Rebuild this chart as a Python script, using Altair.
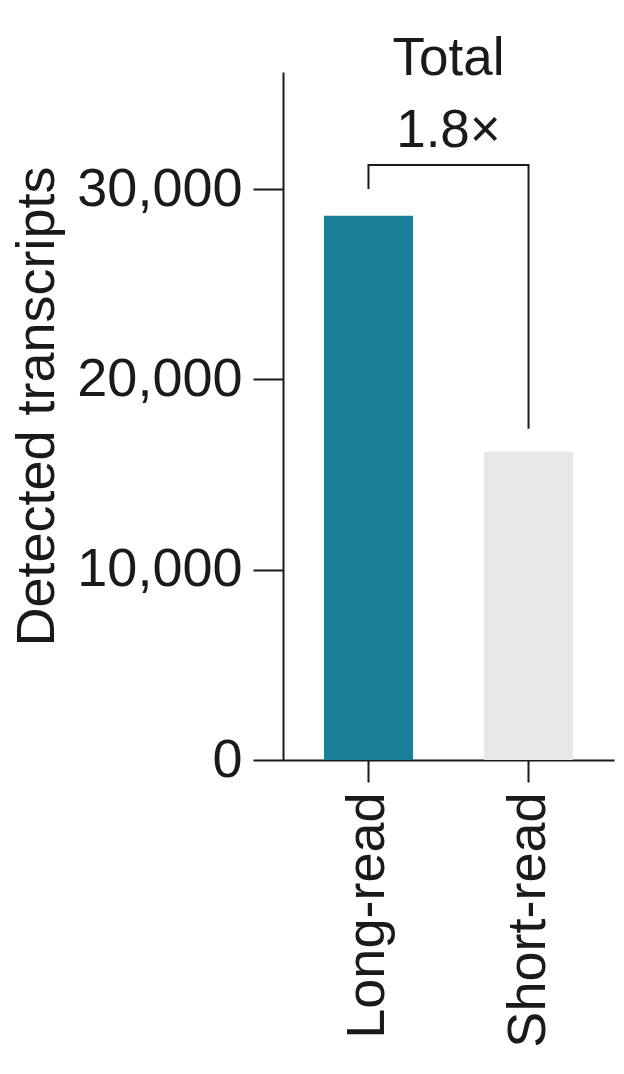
import altair as alt
import pandas as pd

FONT = "Liberation Sans"
INK = "#1a1a1a"

methods = ["Long-read", "Short-read"]
transcripts = [28600, 16200]
bar_colors = ["#1a7f99", "#e6e7e7"]

# bracket comparing the two bars: path points in order
bracket_method = ["Long-read", "Long-read", "Short-read", "Short-read"]
bracket_y = [30000, 31260, 31260, 17400]
bracket_order = [0, 1, 2, 3]

note_text = ["Total", "1.8×"]
note_y = [35990, 32200]

y_max = 36150

bars_df = pd.DataFrame({"method": methods, "transcripts": transcripts})
bracket_df = pd.DataFrame({"method": bracket_method, "y": bracket_y, "order": bracket_order})
note_df = pd.DataFrame({"method": ["Long-read"] * 2, "label": note_text, "y": note_y})

x_scale = alt.Scale(domain=methods, paddingInner=0.444, paddingOuter=0.256)
y_scale = alt.Scale(domain=[0, y_max], nice=False)

bars = (
    alt.Chart(bars_df)
    .mark_bar()
    .encode(
        x=alt.X(
            "method:N",
            scale=x_scale,
            sort=methods,
            title=None,
            axis=alt.Axis(
                labelAngle=-90,
                labelAlign="right",
                labelBaseline="middle",
                labelFontSize=54,
                labelPadding=10,
                labelLimit=0,
                tickSize=22,
            ),
        ),
        y=alt.Y(
            "transcripts:Q",
            scale=y_scale,
            title="Detected transcripts",
            axis=alt.Axis(
                values=[0, 10000, 20000, 30000],
                format=",d",
                labelFontSize=54,
                labelPadding=11,
                tickSize=30,
                titleFontSize=54,
                titleFontWeight="normal",
                titlePadding=19,
                titleY=334,
                grid=False,
            ),
        ),
        color=alt.Color(
            "method:N", scale=alt.Scale(domain=methods, range=bar_colors), legend=None
        ),
    )
)

bracket = (
    alt.Chart(bracket_df)
    .mark_line(color=INK, strokeWidth=2, interpolate="linear")
    .encode(
        x=alt.X("method:N", scale=x_scale, sort=methods),
        y=alt.Y("y:Q", scale=y_scale),
        order="order:Q",
    )
)

notes = (
    alt.Chart(note_df)
    .mark_text(font=FONT, fontSize=53, color=INK, align="center", baseline="alphabetic", dx=80)
    .encode(
        x=alt.X("method:N", scale=x_scale, sort=methods),
        y=alt.Y("y:Q", scale=y_scale),
        text="label:N",
    )
)

chart = (
    alt.layer(bars, bracket, notes)
    .properties(
        width=331,
        height=688,
        autosize=alt.AutoSizeParams(type="none"),
        padding={"left": 275, "top": 64, "right": 2, "bottom": 306},
    )
    .configure_view(stroke=None)
    .configure_axis(
        labelFont=FONT,
        titleFont=FONT,
        labelColor=INK,
        titleColor=INK,
        domainColor=INK,
        tickColor=INK,
        domainWidth=2,
        tickWidth=2,
    )
)

chart.save("out.html", embed_options={"renderer": "svg", "actions": False})
